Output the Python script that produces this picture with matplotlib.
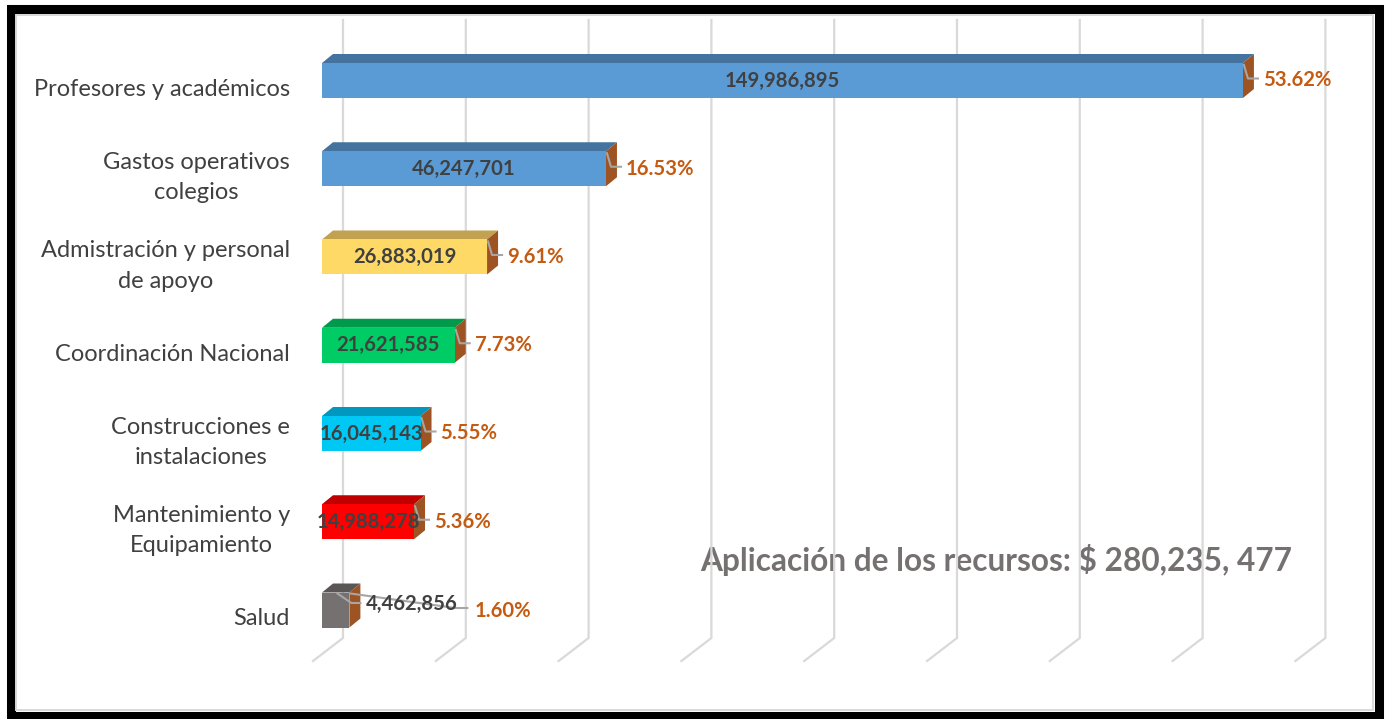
import matplotlib
matplotlib.use("Agg")
import matplotlib.pyplot as plt
from matplotlib.patches import Rectangle, Polygon

plt.rcParams['font.family'] = ['Lato', 'DejaVu Sans']

# ---------------- data ----------------
categories = ["Profesores y académicos", "Gastos operativos\ncolegios",
              "Admistración y personal\nde apoyo", "Coordinación Nacional",
              "Construcciones e\ninstalaciones", "Mantenimiento y\nEquipamiento", "Salud"]
values = [149986895, 46247701, 26883019, 21621585, 16045143, 14988278, 4462856]
percents = [53.62, 16.53, 9.61, 7.73, 5.55, 5.36, 1.60]
front_colors = ["#5B9BD5", "#5B9BD5", "#FFD966", "#00CC66", "#00C8F5", "#FF0000", "#767171"]
top_colors = ["#44739F", "#44739F", "#C2A24E", "#009A4D", "#0098BF", "#C00000", "#5A5656"]
side_color = "#9E5322"
grid_values = [0, 20e6, 40e6, 60e6, 80e6, 100e6, 120e6, 140e6, 160e6]
total_text = "Aplicación de los recursos: \\$ 280,235, 477"

# ---------------- layout (pixels) ----------------
W, H = 1386, 719
PX_PER_UNIT = 6.14e-6      # pixels per peso on the front plane
X0 = 322                   # front plane origin, px
Y0 = 80.5                  # first bar centre, px
DY = 88.25                 # bar spacing, px
BAR_H = 35                 # bar front height, px
DEPTH = (11, 9)            # bar depth offset (right, up), px

fig = plt.figure(figsize=(W / 100, H / 100), dpi=100)
fig.patch.set_facecolor("white")

# background axes in pixel coordinates (frame)
bg = fig.add_axes([0, 0, 1, 1])
bg.set_xlim(0, W)
bg.set_ylim(H, 0)
bg.axis("off")
bg.add_patch(Rectangle((10.5, 9), 1368, 707, fill=False, ec="black", lw=6.5, zorder=1))
bg.add_patch(Rectangle((15.5, 14.5), 1357, 695.5, fill=False, ec="#D9D9D9", lw=1.4, zorder=1))

# main data axes
ax = fig.add_axes([0, 0, 1, 1])
ax.patch.set_alpha(0)
ax.set_xlim(-X0 / PX_PER_UNIT, (W - X0) / PX_PER_UNIT)
ax.set_ylim((H - Y0) / DY, -Y0 / DY)
ax.axis("off")

dxd = 1 / PX_PER_UNIT   # data per px (x)
dyd = 1 / DY            # data per px (y, downward)

def ypx(py):
    return (py - Y0) / DY

# gridlines (back wall + floor)
for g in grid_values:
    xb = g + 21 * dxd
    xf = g - 9 * dxd
    ax.plot([xb, xb, xf], [ypx(20), ypx(638), ypx(661)], color="#D9D9D9", lw=1.6,
            zorder=2, solid_joinstyle="miter")

hh = BAR_H / 2 * dyd
ox, oy = DEPTH[0] * dxd, -DEPTH[1] * dyd
for i, (v, fc, tc) in enumerate(zip(values, front_colors, top_colors)):
    top, bot = i - hh, i + hh
    ax.add_patch(Polygon([(0, top), (v, top), (v + ox, top + oy), (ox, top + oy)],
                         closed=True, fc=tc, ec="none", zorder=3))
    ax.add_patch(Polygon([(v, top), (v + ox, top + oy), (v + ox, bot + oy), (v, bot)],
                         closed=True, fc=side_color, ec="none", zorder=3))
    ax.add_patch(Rectangle((0, top), v, bot - top, fc=fc, ec="none", zorder=4))

# category labels
for i, c in enumerate(categories):
    ax.text((290 - X0) * dxd, i + 9 * dyd, c, ha="right", va="center",
            multialignment="center", fontsize=17, color="#404040", linespacing=1.55,
            zorder=5)

lead_col = "#A6A6A6"
FS = 14.6
for i, (v, p) in enumerate(zip(values, percents)):
    top = i - hh
    vlab = f"{v:,}"
    plab = f"{p:.2f}%"
    if i < len(values) - 1:
        ax.text(v / 2, i, vlab, ha="center", va="center", fontsize=FS,
                fontweight="bold", color="#404040", zorder=6)
        ax.plot([v + 1 * dxd, v + 5 * dxd, v + 15 * dxd],
                [top + 2 * dyd, i - 2 * dyd, i - 2 * dyd], color=lead_col, lw=1.5, zorder=5)
        ax.text(v + 20 * dxd, i, plab, ha="left", va="center", fontsize=FS,
                fontweight="bold", color="#C55A11", zorder=6)
    else:
        ax.plot([v - 12 * dxd, v + 2 * dxd, v + 11 * dxd],
                [top + 1 * dyd, i - 7 * dyd, i - 7 * dyd], color=lead_col, lw=1.5, zorder=5)
        ax.plot([v + 1 * dxd, v + 106 * dxd, v + 118 * dxd],
                [top + 1 * dyd, i - 2 * dyd, i - 2 * dyd], color=lead_col, lw=1.5, zorder=5)
        ax.text(v + 16 * dxd, i - 6 * dyd, vlab, ha="left", va="center", fontsize=FS,
                fontweight="bold", color="#404040", zorder=6)
        ax.text(v + 125 * dxd, i + 1 * dyd, plab, ha="left", va="center", fontsize=FS,
                fontweight="bold", color="#C55A11", zorder=6)

# total annotation (sits behind the gridlines)
ax.text((996.5 - X0) * dxd, ypx(560), total_text, ha="center", va="center",
        fontsize=22.8, fontweight="bold", color="#767171", zorder=1)

fig.savefig("out.png", dpi=100, facecolor="white")
